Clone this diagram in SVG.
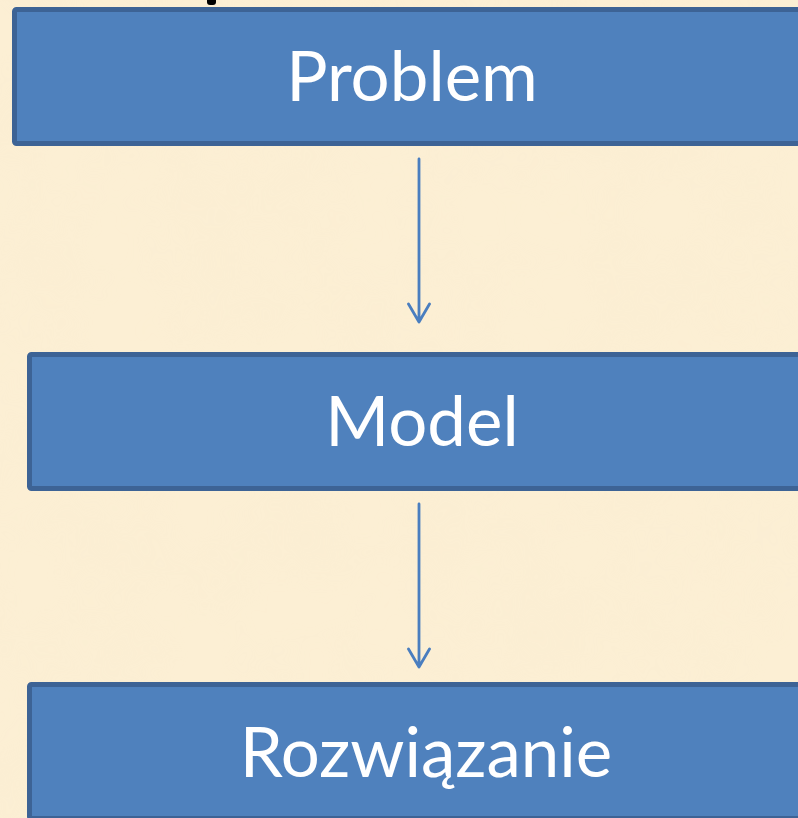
<svg xmlns="http://www.w3.org/2000/svg" width="798" height="818" viewBox="0 0 798 818">
  <defs>
    <style>
      .box { fill: #4f81bd; stroke: #3d6395; stroke-width: 5; }
      .label { fill: #ffffff; font-family: Lato, "Open Sans", "Liberation Sans", sans-serif; font-size: 69px; text-anchor: middle; }
      .link { stroke: #4a7ebf; stroke-width: 2.8; fill: none; stroke-linecap: round; stroke-linejoin: round; }
    </style>
    <!-- parchment mottling -->
    <filter id="parchment" x="0" y="0" width="100%" height="100%">
      <feTurbulence type="fractalNoise" baseFrequency="0.012" numOctaves="3" seed="7"/>
      <feColorMatrix type="matrix" values="0 0 0 0 0.93  0 0 0 0 0.82  0 0 0 0 0.62  0 0 0 0.9 -0.3"/>
    </filter>
  </defs>

  <!-- background -->
  <rect x="0" y="0" width="798" height="818" fill="#fcefd4"/>
  <rect x="0" y="0" width="798" height="818" filter="url(#parchment)" opacity="0.35"/>

  <!-- stray title fragment at top edge -->
  <rect x="207" y="-4" width="9" height="9" rx="3" fill="#000000"/>

  <g id="connectors">
    <path class="link" d="M419 159 V321 M408.5 304 L419 322 L429.5 304"/>
    <path class="link" d="M419 504 V666 M408.5 649 L419 667 L429.5 649"/>
  </g>

  <g id="node-problem">
    <rect class="box" x="14.5" y="9.5" width="810" height="134" rx="2"/>
    <text class="label" x="412" y="101">Problem</text>
  </g>

  <g id="node-model">
    <rect class="box" x="29.5" y="354.5" width="810" height="134" rx="2"/>
    <text class="label" x="422" y="446">Model</text>
  </g>

  <g id="node-rozwiazanie">
    <rect class="box" x="29.5" y="684.5" width="810" height="134" rx="2"/>
    <text class="label" x="426" y="777">Rozwiązanie</text>
  </g>
</svg>
